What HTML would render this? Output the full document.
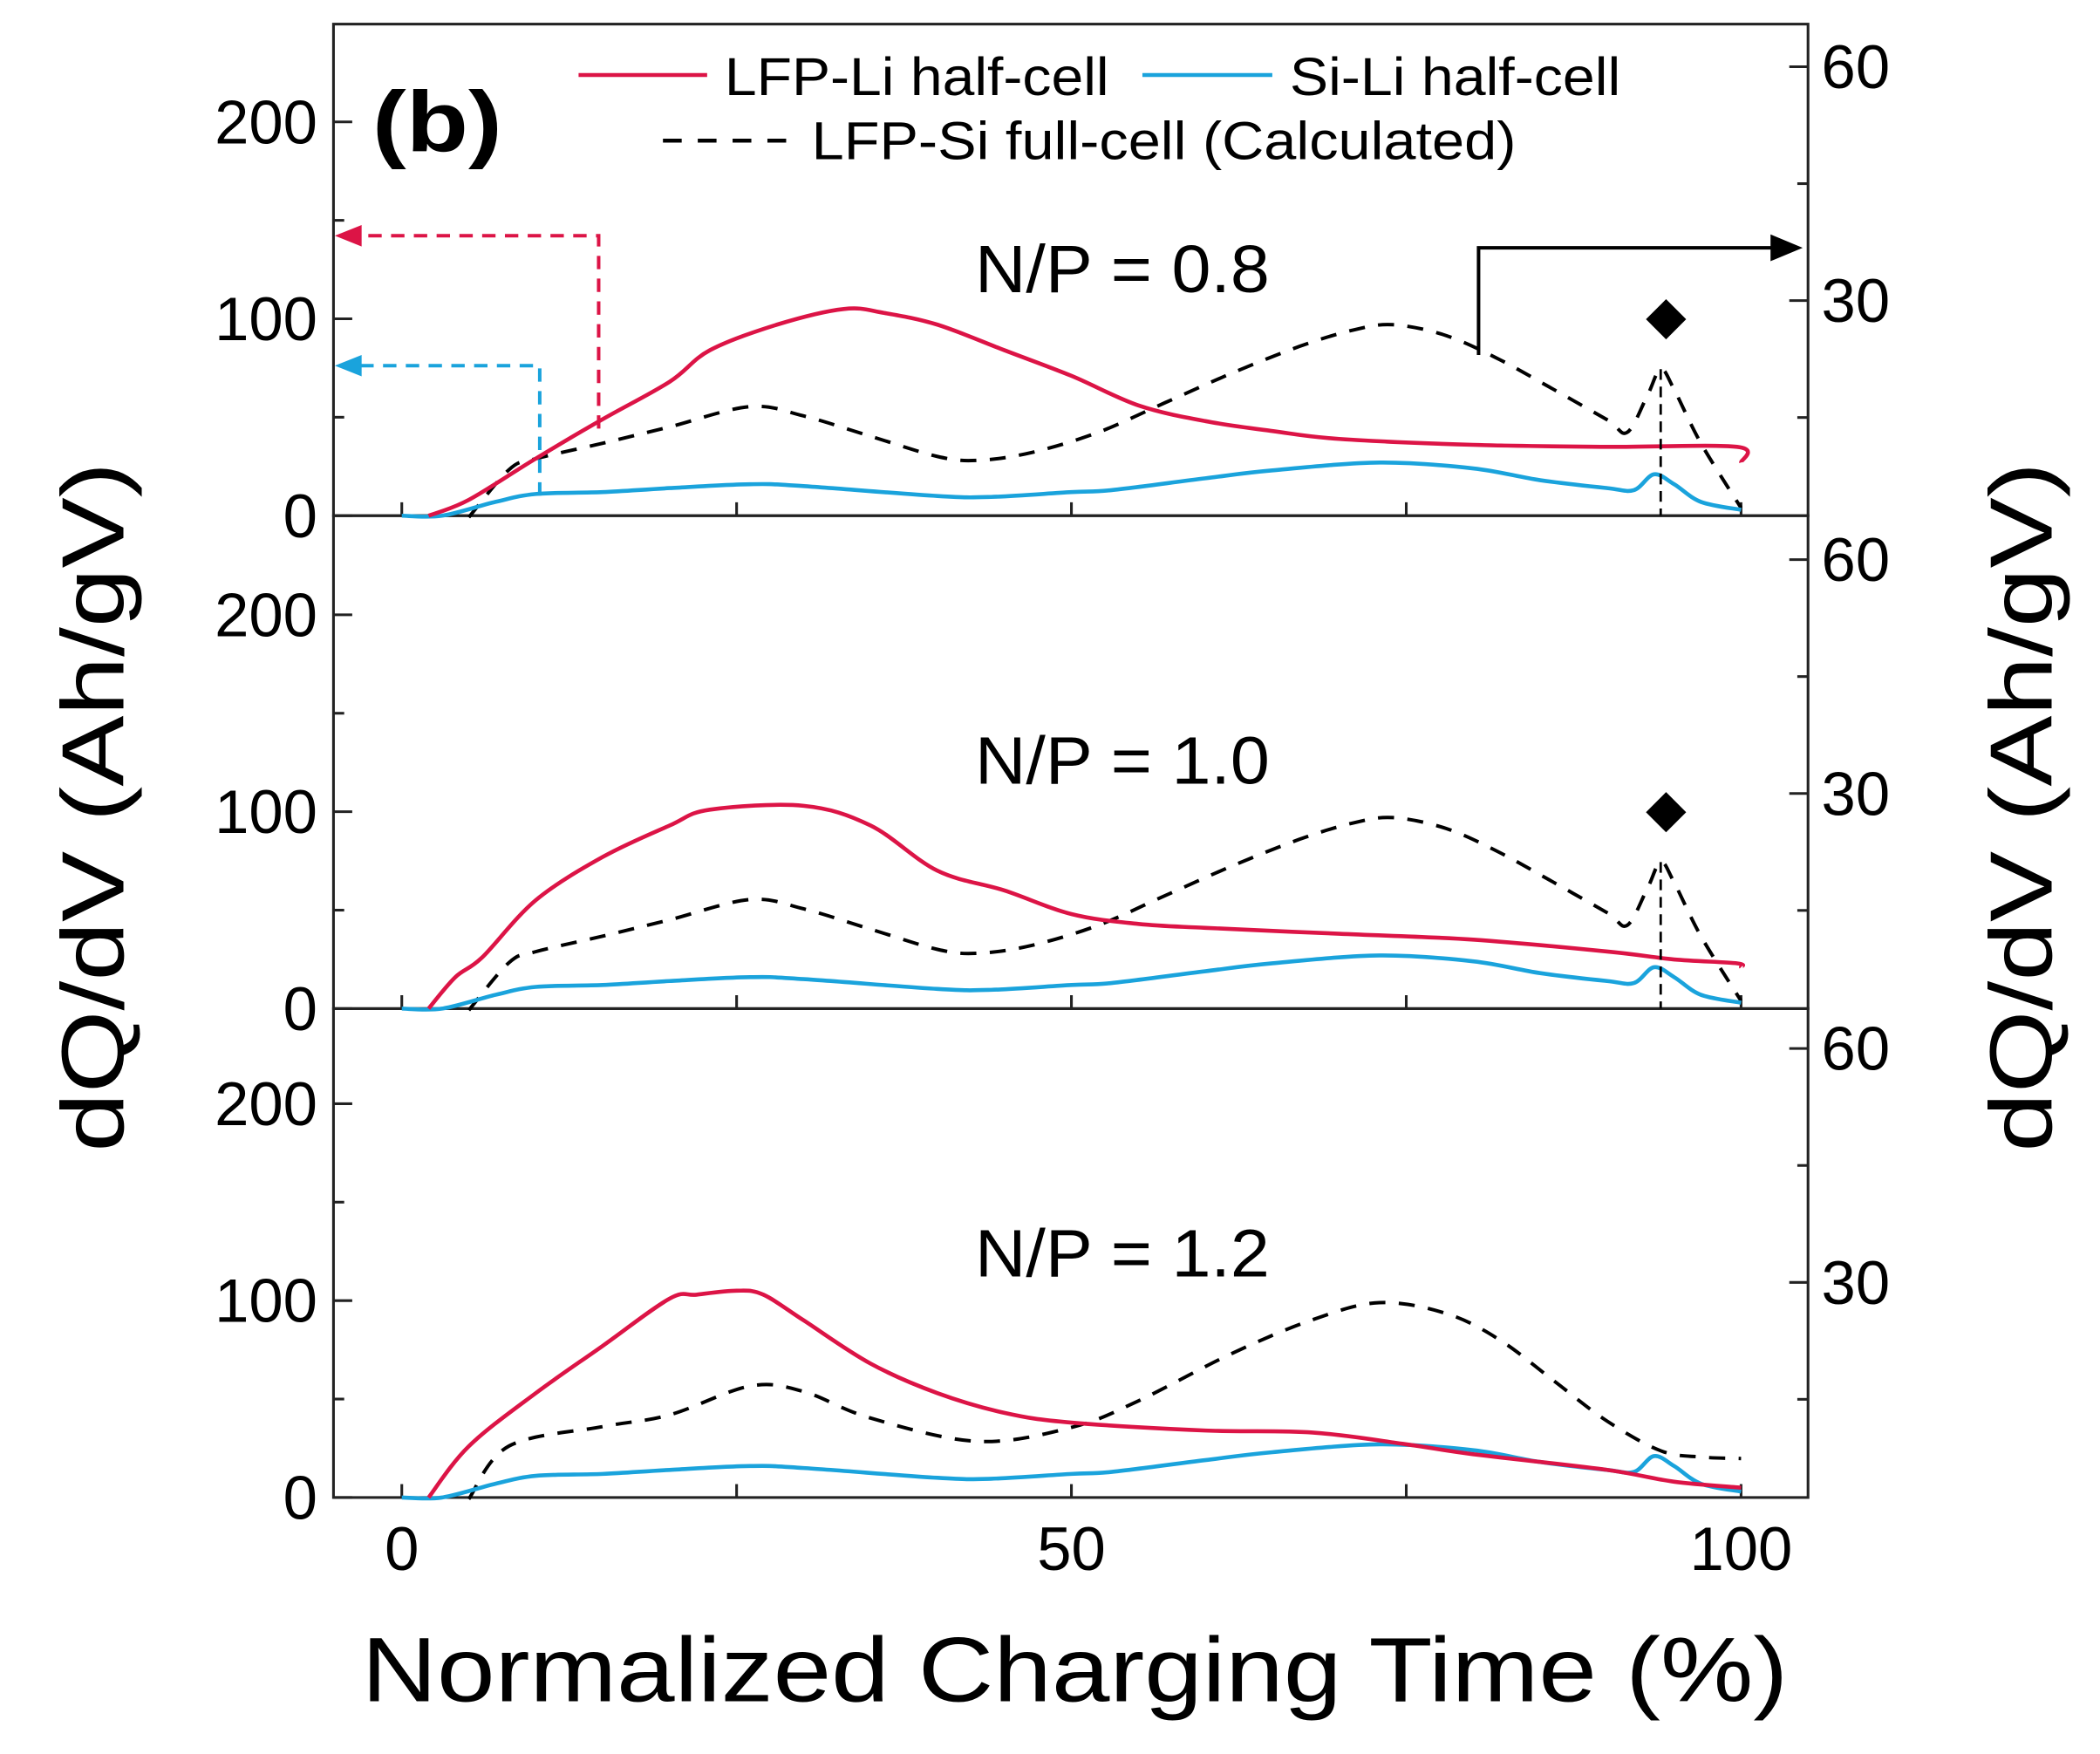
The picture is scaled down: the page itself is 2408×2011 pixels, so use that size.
<!DOCTYPE html>
<html><head><meta charset="utf-8"><style>
html,body{margin:0;padding:0;background:#fff}
svg{display:block}
text{font-family:"Liberation Sans",sans-serif;fill:#000}
</style></head><body>
<svg id="chart" width="2408" height="2011" viewBox="0 0 1568 1309.5" xmlns="http://www.w3.org/2000/svg">
<g id="frame"></g>
<g id="marks"></g>
<g id="labels">
 <text x="278" y="113" font-size="64" font-weight="bold" textLength="97" lengthAdjust="spacingAndGlyphs">(b)</text>
 <line x1="432" y1="56" x2="528" y2="56" stroke="#dc1446" stroke-width="3"/>
 <text x="541" y="71" font-size="40" textLength="287" lengthAdjust="spacingAndGlyphs">LFP-Li half-cell</text>
 <line x1="853" y1="56" x2="950" y2="56" stroke="#1aa3dc" stroke-width="3"/>
 <text x="963" y="71" font-size="40" textLength="247" lengthAdjust="spacingAndGlyphs">Si-Li half-cell</text>
 <line x1="495" y1="105" x2="588" y2="105" stroke="#000" stroke-width="3" stroke-dasharray="14,12"/>
 <text x="606" y="119" font-size="40" textLength="526" lengthAdjust="spacingAndGlyphs">LFP-Si full-cell (Calculated)</text>
 <text x="270" y="1270" font-size="68" textLength="1065" lengthAdjust="spacingAndGlyphs">Normalized Charging Time (%)</text>
 <text transform="translate(92,860) rotate(-90)" font-size="66" textLength="515" lengthAdjust="spacingAndGlyphs">dQ/dV (Ah/gV)</text>
 <text transform="translate(1532,860) rotate(-90)" font-size="66" textLength="515" lengthAdjust="spacingAndGlyphs">dQ/dV (Ah/gV)</text>
</g>
</svg>
<script>
const xTicks=[0,25,50,75,100];
const xTickLabels=["0","50","100"];
const xLabelVals=[0,50,100];
const leftTicks=[0,50,100,150,200];
const leftLabels=[0,100,200];
const rightTicks=[15,30,45,60];
const rightLabels=[30,60];
const panelNames=["N/P = 0.8","N/P = 1.0","N/P = 1.2"];
const redX1=[2,5,10,15,20,23,28,33,36,40,45,50,55,60,65,70,80,90,99.7,100];
const redY1=[0,8,29,49,68,84,97,105,103,97,84,71,56,48,43,39,36,35,35,27];
const redX2=[2,4,6,10,15,20,23,30,35,40,45,50,55,60,70,80,90,95,99.7,100];
const redY2=[0,16,26,55,77,93,101,103,93,70,60,48,43,41,38,35,29,25,23,21];
const redX3=[2,5,10,15,20,22,25,27,30,35,40,45,50,60,68,75,80,90,95,100];
const redY3=[0,26,53,77,101,103,105,103,90,68,53,43,38,34,33,27,22,14,8,5];
const blueX=[0,3,7,10,15,20,26,30,40,44,50,53,60,65,73,80,85,90,92,93.5,95,97,100];
const blueY=[0,0,7,11,12,14,16,15,10,9.5,12,13,19,23,27,24,18,14,13,21,16,7,3];
const dashX1=[5,8,10,15,20,26,30,35,40,43,47,52,57,62,67,71,74,78,82,86,90,91.5,93,94,95,97,100];
const dashY1=[2.2,8.3,9.7,11.7,13.8,16.4,15.2,12.6,10,9.5,10.5,13.1,16.9,20.7,24.1,26.2,26.9,25.5,22.4,18.6,14.7,13.1,17.8,21.2,18.6,11.7,3.4];
const dashX3=[5,8,15,20,26,30,35,43,50,55,62,68,73,78,82,86,90,94,97,100];
const dashY3=[2.2,9,11.5,13,16.7,16,12.6,9.6,11.4,14.8,20.9,25.2,27.4,26,22.6,17.4,12.2,8.4,7.6,7.4];
const spikeX=94, diamondRight=27.6;

const NS="http://www.w3.org/2000/svg";
const L=249,R=1350,panels=[[18,385],[385,753],[753,1118]];
const xs=v=>300+v*10;
const yl=(p,v)=>panels[p][1]-v*1.47;
const yr=(p,v)=>panels[p][1]+14-v*5.82;
function mk(tag,attrs,parent){const e=document.createElementNS(NS,tag);for(const k in attrs)e.setAttribute(k,attrs[k]);parent.appendChild(e);return e;}
const frame=document.getElementById('frame'),marks=document.getElementById('marks');
function path(xa,ya,f,p){
  const P=xa.map((x,i)=>[xs(x),f(p,ya[i])]);
  let d='M'+P[0][0].toFixed(1)+' '+P[0][1].toFixed(1);
  for(let i=0;i<P.length-1;i++){
    const p0=P[Math.max(0,i-1)],p1=P[i],p2=P[i+1],p3=P[Math.min(P.length-1,i+2)];
    const c1=[p1[0]+(p2[0]-p0[0])/6,p1[1]+(p2[1]-p0[1])/6],c2=[p2[0]-(p3[0]-p1[0])/6,p2[1]-(p3[1]-p1[1])/6];
    d+=' C'+c1.map(v=>v.toFixed(1)).join(' ')+' '+c2.map(v=>v.toFixed(1)).join(' ')+' '+p2[0].toFixed(1)+' '+p2[1].toFixed(1);
  }
  return d;
}
const reds=[[redX1,redY1],[redX2,redY2],[redX3,redY3]];
const dashes=[[dashX1,dashY1],[dashX1,dashY1],[dashX3,dashY3]];
panels.forEach((pn,p)=>{
  let r=mk('rect',{x:L,y:pn[0],width:R-L,height:pn[1]-pn[0],fill:'none',stroke:'#222','stroke-width':2},frame);
  
  xTicks.forEach(t=>{let e=mk('line',{x1:xs(t),x2:xs(t),y1:pn[1],y2:pn[1]-10,stroke:'#222','stroke-width':2},frame);
    });
  leftTicks.forEach(t=>{let big=leftLabels.includes(t);let e=mk('line',{x1:L,x2:L+(big?14:8),y1:yl(p,t),y2:yl(p,t),stroke:'#222','stroke-width':2},frame);
    });
  leftLabels.forEach(t=>{let e=mk('text',{x:237,y:yl(p,t)+16,'font-size':46,'text-anchor':'end'},frame);e.textContent=t;
    });
  rightTicks.forEach(t=>{let big=rightLabels.includes(t);let e=mk('line',{x1:R,x2:R-(big?14:8),y1:yr(p,t),y2:yr(p,t),stroke:'#222','stroke-width':2},frame);
    });
  rightLabels.forEach(t=>{let e=mk('text',{x:1360,y:yr(p,t)+16,'font-size':46},frame);e.textContent=t;
    });
  let nt=mk('text',{x:728,y:pn[0]+200,'font-size':50,textLength:220,lengthAdjust:'spacingAndGlyphs'},frame);nt.textContent=panelNames[p];
  
  let d=mk('path',{d:path(dashes[p][0],dashes[p][1],yr,p),fill:'none',stroke:'#000','stroke-width':2.6,'stroke-dasharray':'12,10'},marks);
  
  let b=mk('path',{d:path(blueX,blueY,yl,p),fill:'none',stroke:'#1aa3dc','stroke-width':3},marks);
  
  let rr=mk('path',{d:path(reds[p][0],reds[p][1],yl,p),fill:'none',stroke:'#dc1446','stroke-width':3},marks);
  
  if(p<2){
    let i=dashX1.indexOf(spikeX);
    let v=mk('line',{x1:xs(spikeX),x2:xs(spikeX),y1:yr(p,dashY1[i]),y2:pn[1],stroke:'#000','stroke-width':1.8,'stroke-dasharray':'8,5'},marks);
    
    let cx=xs(spikeX)+4,cy=yr(p,diamondRight);
    let dm=mk('polygon',{points:`${cx},${cy-15} ${cx+15},${cy} ${cx},${cy+15} ${cx-15},${cy}`,fill:'#000'},marks);
    
  }
});
xLabelVals.forEach((t,i)=>{let e=mk('text',{x:xs(t),y:1172,'font-size':46,'text-anchor':'middle'},frame);e.textContent=xTickLabels[i];
  });
function arrow(pts,color,dir,name){
  let pl=mk('polyline',{points:pts.map(p=>p.join(',')).join(' '),fill:'none',stroke:color,'stroke-width':2.6,'stroke-dasharray':dir<0?'10,7':'none'},marks);
  
  let e=pts[pts.length-1],h=dir<0?[[e[0]-8,e[1]],[e[0]+12,e[1]-8],[e[0]+12,e[1]+8]]:[[e[0]+8,e[1]],[e[0]-16,e[1]-10],[e[0]-16,e[1]+10]];
  let hd=mk('polygon',{points:h.map(p=>p.join(',')).join(' '),fill:color},marks);
  
}
arrow([[447,320],[447,176],[258,176]],'#dc1446',-1,'left-axis-arrow-red');
arrow([[403,370],[403,273],[258,273]],'#1aa3dc',-1,'left-axis-arrow-blue');
arrow([[1104,265],[1104,185],[1338,185]],'#000',1,'right-axis-arrow');
</script>
</body></html>
